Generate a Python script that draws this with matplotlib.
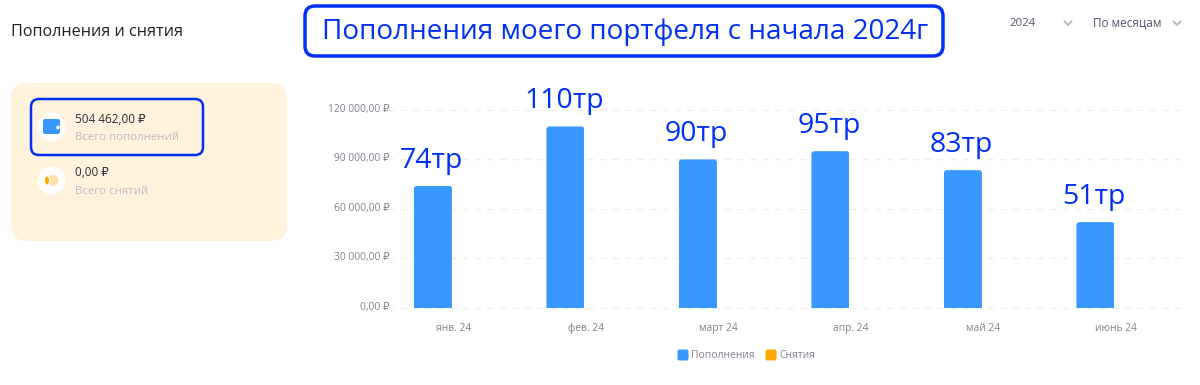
import matplotlib
matplotlib.use("Agg")
import matplotlib.pyplot as plt
from matplotlib.patches import FancyBboxPatch, Circle, Ellipse
from matplotlib.ticker import FuncFormatter
from matplotlib.transforms import IdentityTransform, ScaledTranslation

plt.rcParams['font.family'] = ['Open Sans', 'DejaVu Sans']

months = ["янв. 24", "фев. 24", "март 24", "апр. 24", "май 24", "июнь 24"]
deposits = [74000, 110000, 90000, 95000, 83500, 51962]
withdrawals = [0, 0, 0, 0, 0, 0]
bar_notes = ["74тр", "110тр", "90тр", "95тр", "83тр", "51тр"]
y_ticks = [0, 30000, 60000, 90000, 120000]

BLUE = "#3898ff"
ORANGE = "#ffa800"
INK = "#0030f5"
GREY = "#857f8f"

W, H = 1200, 385
fig = plt.figure(figsize=(W / 100, H / 100), dpi=100, facecolor="white")

# overlay in pixel coords for the page furniture
page = fig.add_axes([0, 0, 1, 1])
page.set_xlim(0, W)
page.set_ylim(H, 0)
page.axis("off")

# chart area
x0, x1, y_top, y_bot = 387, 1182, 110, 307.7
ax = fig.add_axes([x0 / W, 1 - y_bot / H, (x1 - x0) / W, (y_bot - y_top) / H])
ax.patch.set_alpha(0)
xs = list(range(len(months)))
bar_w = 38 / 132.5
bars = ax.bar([x - bar_w / 2 - 0.01 for x in xs], deposits, bar_w, color=BLUE, zorder=3)
ax.bar([x + bar_w / 2 + 0.01 for x in xs], withdrawals, bar_w, color=ORANGE, zorder=3)
ax.set_xlim(-0.5, 5.5)
ax.set_ylim(0, 120000)
ax.set_xticks(xs, months)
ax.set_yticks(y_ticks)
ax.yaxis.set_major_formatter(FuncFormatter(
    lambda v, _: f"{v:,.2f}".replace(",", " ").replace(".", ",") + " ₽"))
ax.tick_params(length=0, labelsize=7.4, labelcolor=GREY)
ax.tick_params(axis="x", pad=11)
ax.tick_params(axis="y", pad=-2)
for s in ax.spines.values():
    s.set_visible(False)
ax.grid(axis="y", color="#eceef2", lw=0.9, ls=(0, (5, 5)), zorder=0)
ax.set_axisbelow(True)
ax.yaxis.get_major_ticks()[0].gridline.set_clip_on(False)
ax.yaxis.get_major_ticks()[-1].gridline.set_clip_on(False)

# y labels sit a bit above their gridlines
for lbl in ax.get_yticklabels():
    lbl.set_transform(lbl.get_transform() + ScaledTranslation(0, 2 / 100, fig.dpi_scale_trans))

# rounded tops on the bars
fig.canvas.draw()
for b in bars:
    bb = b.get_window_extent()
    clip = FancyBboxPatch((bb.x0 + 3, bb.y0 - 10), bb.width - 6, bb.height + 7,
                          boxstyle="round,pad=3,rounding_size=3",
                          transform=IdentityTransform())
    b.set_clip_path(clip)

# hand written notes over the bars
for b, note in zip(bars, bar_notes):
    ax.annotate(note, (b.get_x() + b.get_width() / 2, b.get_height()),
                xytext=(-1, 8), textcoords="offset points", ha="center", va="bottom",
                fontsize=20.5, color=INK, annotation_clip=False, zorder=5)

# header
page.text(11, 32.5, "Пополнения и снятия", fontsize=11.6, color="#20202a", va="center")
page.add_patch(FancyBboxPatch((309, 10), 630, 42, boxstyle="round,pad=4,rounding_size=10",
                              fc="white", ec=INK, lw=2.5))
page.text(625, 31.5, "Пополнения моего портфеля с начала 2024г", fontsize=20.1, color=INK,
          ha="center", va="center")

# dropdowns
page.text(1023, 23, "2024", fontsize=8.2, color="#55566e", ha="center", va="center")
page.text(1127, 23, "По месяцам", fontsize=8.5, color="#55566e", ha="center", va="center")
for cx in (1068, 1177):
    page.plot([cx - 3.5, cx, cx + 3.5], [21.5, 25, 21.5], color="#b5b6c0", lw=1.3)

# left card
page.add_patch(FancyBboxPatch((27, 99), 244, 126, boxstyle="round,pad=16,rounding_size=16",
                              fc="#fff3dd", ec="none"))
page.add_patch(FancyBboxPatch((35, 103), 164, 48, boxstyle="round,pad=4,rounding_size=8",
                              fc="none", ec=INK, lw=1.8))
for cy in (127, 180.5):
    page.add_patch(Circle((51.5, cy), 14, fc="white", ec="none"))

# wallet icon
page.add_patch(FancyBboxPatch((44, 120), 15, 13, boxstyle="round,pad=1,rounding_size=2",
                              fc=BLUE, ec="none"))
page.add_patch(Circle((58, 127.5), 1.8, fc="white", ec="none"))
# coin icon
page.add_patch(Circle((53, 180.5), 5.5, fc="#ffe0ae", ec="none"))
page.add_patch(Ellipse((47, 180.5), 5.5, 9.5, fc="white", ec="none"))
page.add_patch(Ellipse((47, 180.5), 4, 8, fc=ORANGE, ec="none"))

page.text(75, 119.5, "504 462,00 ₽", fontsize=8.5, color="#2b2b38", va="center")
page.text(75, 138, "Всего пополнений", fontsize=8.2, color="#bdb9c4", va="center")
page.text(75, 172.5, "0,00 ₽", fontsize=8.5, color="#2b2b38", va="center")
page.text(75, 191.5, "Всего снятий", fontsize=8.2, color="#bdb9c4", va="center")

# legend
page.add_patch(FancyBboxPatch((679, 351), 8, 8, boxstyle="round,pad=1.5,rounding_size=2",
                              fc=BLUE, ec="none"))
page.text(691, 356, "Пополнения", fontsize=7.5, color=GREY, va="center")
page.add_patch(FancyBboxPatch((767, 351), 8, 8, boxstyle="round,pad=1.5,rounding_size=2",
                              fc=ORANGE, ec="none"))
page.text(779, 356, "Снятия", fontsize=7.5, color=GREY, va="center")

fig.savefig("out.png", dpi=100)
